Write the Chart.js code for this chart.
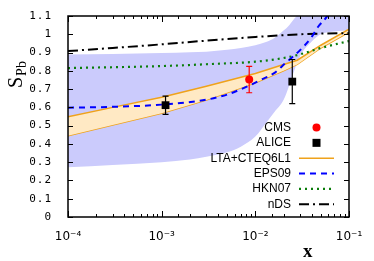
<!DOCTYPE html>
<html>
<head>
<meta charset="utf-8">
<script src="https://cdn.jsdelivr.net/npm/chart.js@4"></script>
<style>
html,body{margin:0;padding:0;background:#fff;}
#box{width:374px;height:261px;position:relative;}
</style>
</head>
<body>
<div id="box"><canvas id="sChart"></canvas></div>
<script>
// values
let xTickLabels=["10\u207B\u2074","10\u207B\u00B3","10\u207B\u00B2","10\u207B\u00B9"];
let yTickLabels=["0","0.1","0.2","0.3","0.4","0.5","0.6","0.7","0.8","0.9","1","1.1"];
let legendNames=["CMS","ALICE","LTA+CTEQ6L1","EPS09","HKN07","nDS"];

let cmsX=[0.0086];
let cmsY=[0.752];
let cmsErr=[0.072];
let aliceX=[0.0011,0.0248];
let aliceY=[0.612,0.741];
let aliceErr=[0.05,0.121];

let ltaX=[1e-4,3e-4,1e-3,3e-3,1e-2,2e-2,2.8e-2,5e-2,1e-1];
let ltaHigh=[0.549,0.6,0.655,0.715,0.785,0.835,0.858,0.94,1.028];
let ltaLow=[0.445,0.503,0.568,0.64,0.735,0.8,0.835,0.925,1.012];

let epsX=[1e-4,3e-4,1e-3,3e-3,5e-3,8e-3,1.12e-2,1.62e-2,2.07e-2,2.99e-2,3.99e-2,4.66e-2,5.77e-2,7e-2];
let eps=[0.598,0.603,0.615,0.642,0.67,0.712,0.748,0.79,0.84,0.912,0.985,1.04,1.095,1.17];

let bandX=[1e-4,3e-4,1e-3,2e-3,3e-3,5e-3,7e-3,1e-2,1.3e-2,1.6e-2,2e-2,2.3e-2,2.6e-2,3e-2,4e-2,5e-2,7e-2,1e-1];
let bandHigh=[0.889,0.892,0.898,0.902,0.905,0.915,0.925,0.94,0.958,0.98,1.02,1.05,1.085,1.12,1.25,1.3,1.3,1.3];
let bandLow=[0.272,0.285,0.3,0.315,0.33,0.355,0.385,0.44,0.515,0.575,0.64,0.72,0.8,0.88,0.96,1.0,1.015,1.02];

let hknX=[1e-4,1e-3,3e-3,1e-2,2e-2,3e-2,5e-2,1e-1];
let hkn=[0.815,0.826,0.836,0.85,0.87,0.89,0.925,0.963];

let ndsX=[1e-4,3e-4,1e-3,3e-3,1e-2,2e-2,3e-2,5e-2,1e-1];
let nds=[0.908,0.925,0.945,0.965,0.985,0.995,1.0,1.004,1.006];

let orange="#efa21b";
let blue="#0000ff";
let green="#0a7d0a";

function pts(xs,ys){
    return xs.map((x,i)=>({x:x,y:ys[i]}));
}

// error bars, drawn just before the markers
const errorBars={
    id:"errorBars",
    beforeDatasetDraw(chart,args){
        if(args.index!==1) return;
        let c=chart.ctx, xs=chart.scales.x, ys=chart.scales.y;
        function bar(x,y,e,col){
            let px=xs.getPixelForValue(x);
            let p1=ys.getPixelForValue(y+e), p2=ys.getPixelForValue(y-e);
            c.strokeStyle=col;
            c.lineWidth=1.2;
            c.beginPath();
            c.moveTo(px,p1);c.lineTo(px,p2);
            c.moveTo(px-3,p1);c.lineTo(px+3,p1);
            c.moveTo(px-3,p2);c.lineTo(px+3,p2);
            c.stroke();
        }
        c.save();
        for(let i=0;i<cmsX.length;i++) bar(cmsX[i],cmsY[i],cmsErr[i],"#ff0000");
        for(let i=0;i<aliceX.length;i++) bar(aliceX[i],aliceY[i],aliceErr[i],"#000");
        c.restore();
    }
};

// frame, inward ticks, titles and legend
const decor={
    id:"decor",
    beforeDraw(chart){
        let ys=chart.scales.y;
        if(!ys._spaced){
            let orig=ys.drawLabels;
            ys.drawLabels=function(area){
                this.ctx.letterSpacing="1px";
                orig.call(this,area);
                this.ctx.letterSpacing="0px";
            };
            ys._spaced=true;
        }
    },
    afterDraw(chart){
        let c=chart.ctx, a=chart.chartArea, xs=chart.scales.x, ys=chart.scales.y;
        c.save();
        c.strokeStyle="#000";
        c.lineWidth=1;
        c.beginPath();
        xs.ticks.forEach(t=>{
            let px=Math.round(xs.getPixelForValue(t.value))+0.5;
            let e=Math.log10(t.value);
            let len=Math.abs(e-Math.round(e))<1e-6?6:3;
            c.moveTo(px,a.bottom);c.lineTo(px,a.bottom-len);
            c.moveTo(px,a.top);c.lineTo(px,a.top+len);
        });
        ys.ticks.forEach(t=>{
            let py=Math.round(ys.getPixelForValue(t.value))+0.5;
            c.moveTo(a.left,py);c.lineTo(a.left+5,py);
            c.moveTo(a.right,py);c.lineTo(a.right-5,py);
        });
        c.stroke();
        c.lineWidth=1.5;
        c.strokeRect(a.left,a.top,a.right-a.left,a.bottom-a.top);

        // axis titles
        c.fillStyle="#000";
        c.textBaseline="alphabetic";
        c.textAlign="left";
        c.font="bold 19px 'Liberation Serif'";
        c.fillText("x",303,257);
        c.save();
        c.translate(22,88);
        c.rotate(-Math.PI/2);
        c.font="20px 'Liberation Serif'";
        c.fillText("S",0,0);
        let w=c.measureText("S").width;
        c.font="14px 'Liberation Serif'";
        c.fillText("Pb",w+1,4);
        c.restore();

        // legend
        c.font="12px 'Liberation Sans'";
        c.textAlign="right";
        c.textBaseline="middle";
        let tx=291, sx1=299, sx2=334, sc=316.5;
        for(let i=0;i<legendNames.length;i++){
            let y=127.5+i*15.35;
            c.fillStyle="#000";
            c.fillText(legendNames[i],tx,y);
            c.setLineDash([]);
            if(i===0){
                c.fillStyle="#ff0000";
                c.beginPath();c.arc(sc,y,4,0,Math.PI*2);c.fill();
            }else if(i===1){
                c.fillStyle="#000";
                c.fillRect(sc-4,y-4,8,8);
            }else{
                let st=[[orange,[],1.5],[blue,[6,5],2],[green,[2,4],2.2],["#000",[10,4,2,4],2]][i-2];
                c.strokeStyle=st[0];
                c.setLineDash(st[1]);
                c.lineWidth=st[2];
                c.beginPath();c.moveTo(sx1,y);c.lineTo(sx2,y);c.stroke();
            }
        }
        c.restore();
    }
};

let ctx=document.getElementById("sChart").getContext("2d");
let sChart=new Chart(ctx,{
    type:"line",
    data:{
        datasets:[
            {label:"CMS",data:pts(cmsX,cmsY),showLine:false,pointStyle:"circle",pointRadius:4,
             backgroundColor:"#ff0000",borderColor:"#ff0000",borderWidth:0,order:0},
            {label:"ALICE",data:pts(aliceX,aliceY),showLine:false,pointStyle:"rect",pointRadius:5.5,
             backgroundColor:"#000",borderColor:"#000",borderWidth:0,order:0},
            {label:"LTA+CTEQ6L1",data:pts(ltaX,ltaHigh),borderColor:orange,borderWidth:1.5,
             backgroundColor:"rgb(255,233,196)",fill:"+1",pointRadius:0,tension:0,order:2},
            {label:"LTA low",data:pts(ltaX,ltaLow),borderColor:orange,borderWidth:1.5,
             fill:false,pointRadius:0,tension:0,order:2},
            {label:"EPS09",data:pts(epsX,eps),borderColor:blue,borderWidth:2,borderDash:[6,5],
             fill:false,pointRadius:0,cubicInterpolationMode:"monotone",order:1},
            {label:"HKN07",data:pts(hknX,hkn),borderColor:green,borderWidth:2.2,borderDash:[2,4],
             fill:false,pointRadius:0,cubicInterpolationMode:"monotone",order:1},
            {label:"nDS",data:pts(ndsX,nds),borderColor:"#000",borderWidth:2,borderDash:[10,4,2,4],
             fill:false,pointRadius:0,cubicInterpolationMode:"monotone",order:1},
            {label:"EPS09 band",data:pts(bandX,bandHigh),borderWidth:0,borderColor:"rgba(0,0,0,0)",
             backgroundColor:"rgb(203,203,252)",fill:"+1",pointRadius:0,cubicInterpolationMode:"monotone",order:5},
            {label:"EPS09 band low",data:pts(bandX,bandLow),borderWidth:0,borderColor:"rgba(0,0,0,0)",
             fill:false,pointRadius:0,cubicInterpolationMode:"monotone",order:5}
        ]
    },
    options:{
        responsive:true,
        maintainAspectRatio:false,
        animation:false,
        layout:{padding:{top:16,right:25,left:0,bottom:0}},
        plugins:{legend:{display:false},tooltip:{enabled:false}},
        scales:{
            x:{
                type:"logarithmic",min:1e-4,max:0.1,
                grid:{display:false},border:{display:false},
                ticks:{autoSkip:false,maxRotation:0,padding:5,color:"#000",
                    font:{family:"DejaVu Sans",size:12},
                    callback:function(v){
                        let e=Math.log10(v);
                        if(Math.abs(e-Math.round(e))<1e-6) return xTickLabels[Math.round(e)+4];
                        return "";
                    }},
                afterFit:function(s){s.height=44;}
            },
            y:{
                min:0,max:1.1,
                grid:{display:false},border:{display:false},
                ticks:{stepSize:0.1,padding:8,color:"#000",
                    font:{family:"DejaVu Sans Mono",size:11},
                    callback:function(v){return yTickLabels[Math.round(v*10)];}},
                afterFit:function(s){s.width=68;}
            }
        }
    },
    plugins:[errorBars,decor]
});
</script>
</body>
</html>
